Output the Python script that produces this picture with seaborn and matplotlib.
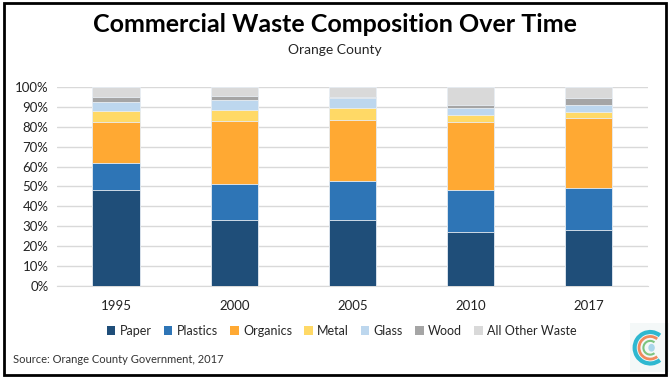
import pandas as pd
import matplotlib.pyplot as plt
import seaborn as sns
from matplotlib.patches import Arc, Circle, Rectangle, Patch
from matplotlib.ticker import PercentFormatter

# data (percent of total)
years = ["1995", "2000", "2005", "2010", "2017"]
paper = [48, 33, 33, 27, 28]
plastics = [14, 18.5, 20, 21, 21]
organics = [20.5, 31.5, 30.5, 34.5, 35.5]
metal = [5.5, 5.5, 6, 3.5, 3]
glass = [4.5, 5, 5, 3.5, 3.5]
wood = [2.5, 2, 0.5, 1.5, 3.5]
other = [5, 4.5, 5, 9, 5.5]

categories = ["Paper", "Plastics", "Organics", "Metal", "Glass", "Wood", "All Other Waste"]
colors = ["#1F4E79", "#2E75B6", "#FFA933", "#FFD966", "#BDD7EE", "#A5A5A5", "#D9D9D9"]

df = pd.DataFrame({"year": years, "Paper": paper, "Plastics": plastics,
                   "Organics": organics, "Metal": metal, "Glass": glass,
                   "Wood": wood, "All Other Waste": other})
# cumulative shares for stacking
cum = df[categories].cumsum(axis=1) / 100
cum["year"] = df["year"]

sns.set_style("white")
plt.rcParams["font.family"] = ["Lato", "DejaVu Sans"]

fig = plt.figure(figsize=(6.7, 3.78), dpi=100)
ax = fig.add_axes([0.085, 0.2434, 0.882, 0.5265])

# draw from the top of the stack down so each layer covers the one above
for cat, col in reversed(list(zip(categories, colors))):
    sns.barplot(data=cum, x="year", y=cat, color=col, width=0.4, saturation=1,
                edgecolor="#E8EEF4", linewidth=0.6, ax=ax, zorder=3)

ax.set_ylim(0, 1)
ax.set_xlim(-0.5, 4.5)
ax.set_yticks([i / 10 for i in range(11)])
ax.yaxis.set_major_formatter(PercentFormatter(1.0, decimals=0))
ax.grid(axis="y", color="#D9D9D9", linewidth=1.0, zorder=0)
for s in ["top", "right", "left"]:
    ax.spines[s].set_visible(False)
ax.spines["bottom"].set_color("#D9D9D9")
ax.set_xlabel("")
ax.set_ylabel("")
ax.tick_params(axis="both", length=0, labelsize=9.5, colors="#222222")
ax.tick_params(axis="x", pad=10)
ax.tick_params(axis="y", pad=6)

fig.text(0.5, 0.935, "Commercial Waste Composition Over Time", ha="center",
         va="center", fontsize=18, fontweight="bold", color="black")
fig.text(0.5, 0.868, "Orange County", ha="center", va="center", fontsize=10)

handles = [Patch(facecolor=c, edgecolor="none") for c in colors]
fig.legend(handles, categories, loc="center", bbox_to_anchor=(0.51, 0.125),
           ncol=7, frameon=False, fontsize=9, handlelength=0.7,
           handleheight=0.7, handletextpad=0.35, columnspacing=0.95)

fig.text(0.02, 0.05, "Source: Orange County Government, 2017", ha="left",
         va="center", fontsize=8, color="#333333")

# border
fig.patches.append(Rectangle((0.006, 0.008), 0.988, 0.984, transform=fig.transFigure,
                             fill=False, edgecolor="black", linewidth=2))

# little logo bottom right
lax = fig.add_axes([0.94, 0.015, 0.058, 0.13])
lax.set_xlim(-1, 1)
lax.set_ylim(-1, 1)
lax.axis("off")
lax.add_patch(Rectangle((-1, -1), 2, 2, color="#F4F8F8"))
sq = 0.8  # keep the arcs round inside a non-square axes
lax.add_patch(Arc((0.05, 0), 1.6, 1.6 * sq, theta1=45, theta2=315,
                  color="#2FB8D0", linewidth=3))
lax.add_patch(Arc((0.05, 0), 1.15, 1.15 * sq, theta1=45, theta2=315,
                  color="#F08A5D", linewidth=2))
lax.add_patch(Arc((0.05, 0), 0.7, 0.7 * sq, theta1=45, theta2=315,
                  color="#7CC47F", linewidth=1.5))
lax.add_patch(Circle((0.12, 0), 0.13, color="#A9D6EA"))

fig.savefig("out.png", dpi=100)
